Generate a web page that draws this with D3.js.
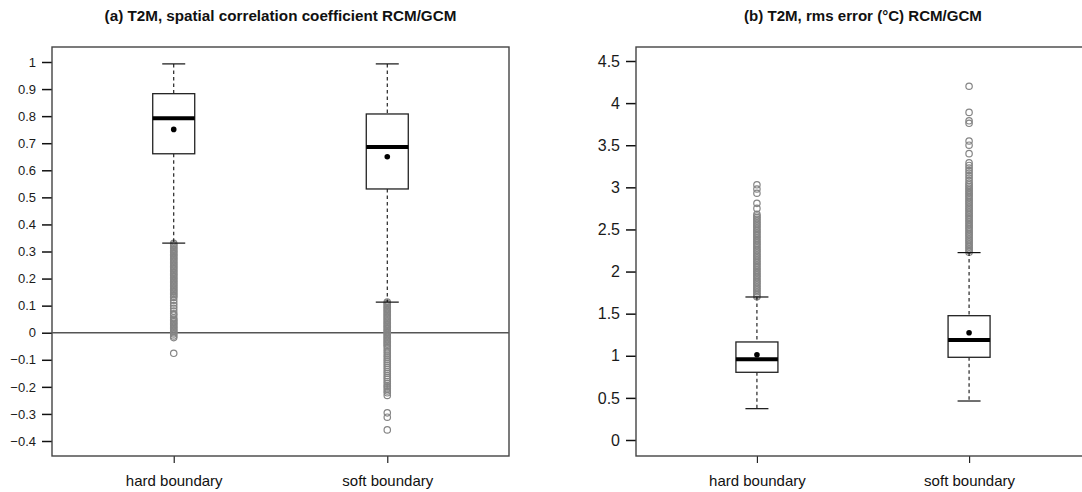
<!DOCTYPE html>
<html><head><meta charset="utf-8">
<script src="https://cdn.jsdelivr.net/npm/d3@7"></script>
<style>
body{margin:0;background:#fff;}
text{font-family:"Liberation Sans",Arial,sans-serif;}
</style></head>
<body><svg id="c" width="1082" height="492"></svg>
<script>
const categories = ["hard boundary","soft boundary"];

// Panel (a): spatial correlation coefficient
const titleA = "(a) T2M, spatial correlation coefficient RCM/GCM";
const ticksA = [-0.4,-0.3,-0.2,-0.1,0,0.1,0.2,0.3,0.4,0.5,0.6,0.7,0.8,0.9,1];
const statsA = [
  {lo:0.331, q1:0.661, med:0.792, q3:0.883, hi:0.993, mean:0.751},
  {lo:0.113, q1:0.531, med:0.686, q3:0.808, hi:0.993, mean:0.650}
];
const outA_hard = [0.33,0.325,0.32,0.315,0.31,0.305,0.30,0.295,0.29,0.285,0.28,0.275,0.27,0.265,0.26,0.255,0.25,0.245,0.24,0.235,0.23,0.225,0.22,0.215,0.21,0.205,0.20,0.195,0.19,0.185,0.18,0.175,0.17,0.165,0.16,0.155,0.15,0.145,0.14,0.135,0.13,0.12,0.11,0.10,0.09,0.08,0.07,0.065,0.055,0.05,0.045,0.04,0.035,0.03,0.025,0.02,0.015,0.01,0.005,0.0,-0.005,-0.012,-0.018,-0.076];
const outA_soft = [0.113,0.108,0.103,0.098,0.093,0.088,0.083,0.078,0.073,0.068,0.063,0.058,0.053,0.048,0.043,0.038,0.033,0.028,0.023,0.018,0.013,0.008,0.003,-0.002,-0.007,-0.012,-0.017,-0.022,-0.027,-0.032,-0.037,-0.042,-0.047,-0.052,-0.06,-0.068,-0.075,-0.083,-0.09,-0.098,-0.105,-0.113,-0.12,-0.128,-0.135,-0.143,-0.15,-0.158,-0.165,-0.172,-0.18,-0.187,-0.195,-0.2,-0.207,-0.215,-0.222,-0.232,-0.296,-0.312,-0.359];

// Panel (b): rms error
const titleB = "(b) T2M, rms error (°C) RCM/GCM";
const ticksB = [0,0.5,1,1.5,2,2.5,3,3.5,4,4.5];
const statsB = [
  {lo:0.372, q1:0.804, med:0.958, q3:1.164, hi:1.698, mean:1.013},
  {lo:0.463, q1:0.982, med:1.188, q3:1.476, hi:2.225, mean:1.274}
];
const outB_hard = [1.70,1.72,1.74,1.76,1.78,1.80,1.82,1.84,1.86,1.88,1.90,1.92,1.94,1.96,1.98,2.00,2.02,2.04,2.06,2.08,2.10,2.12,2.14,2.16,2.18,2.20,2.22,2.24,2.26,2.28,2.30,2.32,2.34,2.36,2.38,2.40,2.42,2.44,2.46,2.48,2.50,2.52,2.54,2.56,2.58,2.60,2.62,2.64,2.66,2.68,2.75,2.81,2.93,2.98,3.03];
const outB_soft = [2.23,2.25,2.27,2.29,2.31,2.33,2.35,2.37,2.39,2.41,2.43,2.45,2.47,2.49,2.51,2.53,2.55,2.57,2.59,2.61,2.63,2.65,2.67,2.69,2.71,2.73,2.75,2.77,2.79,2.81,2.83,2.85,2.87,2.89,2.91,2.93,2.95,2.97,2.99,3.01,3.03,3.05,3.08,3.11,3.14,3.17,3.20,3.23,3.26,3.29,3.40,3.50,3.55,3.76,3.79,3.89,4.20];

const svg = d3.select("#c");

function panel(cfg){
  const g = svg.append("g");
  const x = d3.scaleLinear().domain([0.43,2.57]).range([cfg.left,cfg.right]);
  const y = d3.scaleLinear().domain(cfg.domain).range([cfg.bottom,cfg.top]);
  // title, sized to the reference title width
  const t = g.append("text").attr("x",(cfg.left+cfg.right)/2).attr("y",20.5)
    .attr("text-anchor","middle").attr("font-weight","bold").attr("font-size",13)
    .attr("fill","#111").text(cfg.title);
  const len = t.node().getComputedTextLength();
  t.attr("font-size", 13*cfg.titleWidth/len);
  // y axis
  const ya = g.append("g").attr("transform",`translate(${cfg.left},0)`)
    .call(d3.axisLeft(y).tickValues(cfg.ticks).tickSize(10).tickPadding(6).tickFormat(d=>d3.format("")(d).replace("-","\u2212")));
  ya.select(".domain").remove();
  ya.selectAll(".tick line").attr("stroke","#111").attr("stroke-width",1.5);
  ya.selectAll(".tick text").attr("font-size",cfg.tickFont).attr("fill","#1a1a1a")
    .attr("font-family","Liberation Sans, Arial, sans-serif");
  // x axis
  const xa = g.append("g").attr("transform",`translate(0,${cfg.frameBottom})`)
    .call(d3.axisBottom(x).tickValues([1,2]).tickSize(7).tickPadding(12).tickFormat((d,i)=>categories[i]));
  xa.select(".domain").remove();
  xa.selectAll(".tick line").attr("stroke","#222").attr("stroke-width",1.2);
  xa.selectAll(".tick text").attr("font-size",15).attr("fill","#111")
    .attr("font-family","Liberation Sans, Arial, sans-serif");
  // frame
  g.append("rect").attr("x",cfg.left).attr("y",cfg.frameTop)
    .attr("width",cfg.right-cfg.left).attr("height",cfg.frameBottom-cfg.frameTop)
    .attr("fill","none").attr("stroke","#444").attr("stroke-width",1.4);
  if(cfg.zeroLine){
    g.append("line").attr("x1",cfg.left).attr("x2",cfg.right)
      .attr("y1",y(0)).attr("y2",y(0)).attr("stroke","#555").attr("stroke-width",1.5);
  }
  const bw = 42, cw = 23;
  cfg.stats.forEach((s,i)=>{
    const cx = x(i+1);
    const gg = g.append("g");
    // outliers
    gg.selectAll("circle.o").data(cfg.outliers[i]).enter().append("circle")
      .attr("cx",cx).attr("cy",d=>y(d)).attr("r",3.2)
      .attr("fill","none").attr("stroke","#858585").attr("stroke-width",1.2);
    // whiskers
    gg.append("line").attr("x1",cx).attr("x2",cx).attr("y1",y(s.hi)).attr("y2",y(s.q3))
      .attr("stroke","#111").attr("stroke-width",1.1).attr("stroke-dasharray","3.5,3");
    gg.append("line").attr("x1",cx).attr("x2",cx).attr("y1",y(s.q1)).attr("y2",y(s.lo))
      .attr("stroke","#111").attr("stroke-width",1.1).attr("stroke-dasharray","3.5,3");
    [s.hi,s.lo].forEach(v=>{
      gg.append("line").attr("x1",cx-cw/2).attr("x2",cx+cw/2).attr("y1",y(v)).attr("y2",y(v))
        .attr("stroke","#111").attr("stroke-width",1.2);
    });
    // box
    gg.append("rect").attr("x",cx-bw/2).attr("y",y(s.q3)).attr("width",bw)
      .attr("height",y(s.q1)-y(s.q3)).attr("fill","#fff").attr("stroke","#222").attr("stroke-width",1.3);
    gg.append("line").attr("x1",cx-bw/2).attr("x2",cx+bw/2).attr("y1",y(s.med)).attr("y2",y(s.med))
      .attr("stroke","#000").attr("stroke-width",4);
    gg.append("circle").attr("cx",cx).attr("cy",y(s.mean)).attr("r",2.8).attr("fill","#000");
  });
}

panel({title:titleA, titleWidth:352, left:52, right:509, frameTop:47, frameBottom:456,
  top:62, bottom:441, domain:[-0.4,1], ticks:ticksA, tickFont:13,
  stats:statsA, outliers:[outA_hard,outA_soft], zeroLine:true});
panel({title:titleB, titleWidth:238, left:636, right:1090, frameTop:47, frameBottom:456,
  top:61, bottom:440, domain:[0,4.5], ticks:ticksB, tickFont:16,
  stats:statsB, outliers:[outB_hard,outB_soft], zeroLine:false});
</script></body></html>
